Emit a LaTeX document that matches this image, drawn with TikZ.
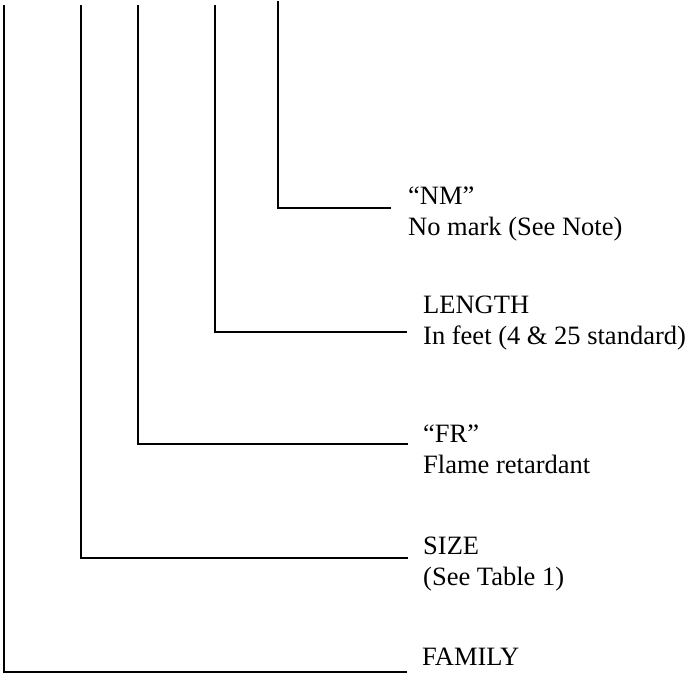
\documentclass[tikz,border=0pt]{standalone}
\usepackage{fontspec}
\setmainfont{Liberation Serif}
\tikzset{
  lead/.style={line width=1.5pt},
  lbl/.style={anchor=base west, align=left, inner sep=0pt,
              font=\fontsize{26.5}{31}\selectfont},
}

\begin{document}
\begin{tikzpicture}[x=1pt,y=-1pt]
  \useasboundingbox (0,0) rectangle (687,675);
  % tops of the leads
  \coordinate (tfam) at (4,5);
  \coordinate (tsize) at (81,5);
  \coordinate (tfr) at (138,5);
  \coordinate (tlen) at (215,5);
  \coordinate (tnm) at (278,1);
  % ends of the leads
  \coordinate (efam) at (407,672);
  \coordinate (esize) at (408,558);
  \coordinate (efr) at (408,444);
  \coordinate (elen) at (407,332);
  \coordinate (enm) at (391,208);
  % labels, placed by the baseline of their last line
  \node[lbl] (nm) at (408,235) {“NM”\\No mark (See Note)};
  \node[lbl] (len) at (423,344) {LENGTH\\In feet (4 \& 25 standard)};
  \node[lbl] (fr) at (423,473) {“FR”\\Flame retardant};
  \node[lbl] (size) at (423,585) {SIZE\\(See Table 1)};
  \node[lbl] (fam) at (422,665) {FAMILY};
  \foreach \i/\j in {tfam/efam,tsize/esize,tfr/efr,tlen/elen,tnm/enm}
    \draw[lead] (\i) |- (\j);
\end{tikzpicture}
\end{document}
